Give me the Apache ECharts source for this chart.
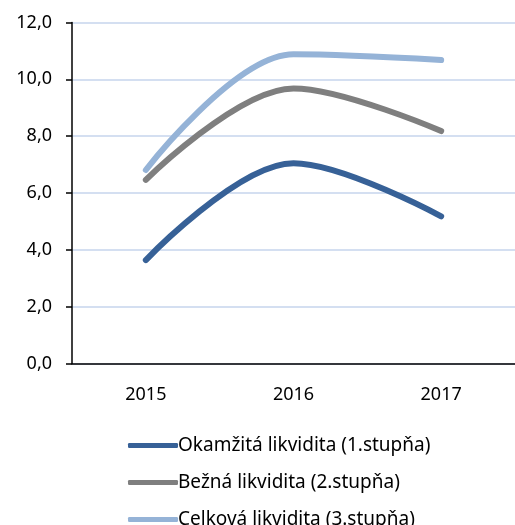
<!DOCTYPE html>
<html>
<head>
<meta charset="utf-8">
<script src="https://cdn.jsdelivr.net/npm/echarts@6/dist/echarts.min.js"></script>
<style>
  html, body { margin: 0; padding: 0; background: #fff; }
  #chart { width: 515px; height: 525px; }
</style>
</head>
<body>
<div id="chart"></div>
<script>
  // roky na osi x
  const years = ['2015', '2016', '2017'];
  // ukazovatele likvidity
  const okamzita = [3.64, 7.05, 5.18];
  const bezna = [6.46, 9.68, 8.18];
  const celkova = [6.81, 10.88, 10.68];
  const seriesNames = ['Okamžitá likvidita (1.stupňa)', 'Bežná likvidita (2.stupňa)', 'Celková likvidita (3.stupňa)'];
  const yTicks = [0, 2, 4, 6, 8, 10, 12];

  const chart = echarts.init(document.getElementById('chart'));
  const font = 'Noto Sans';

  function lineSeries(name, data, color) {
    return {
      name: name,
      type: 'line',
      data: data,
      smooth: 0.35,
      symbol: 'none',
      lineStyle: { color: color, width: 6, cap: 'round', join: 'round' },
      itemStyle: { color: color }
    };
  }

  chart.setOption({
    animation: false,
    grid: { left: 72, top: 22.5, width: 450, bottom: 161.5 },
    xAxis: {
      type: 'category',
      data: years,
      axisLine: { lineStyle: { color: '#000', width: 1.5 } },
      axisTick: { length: 6, lineStyle: { color: '#000', width: 1.5 } },
      axisLabel: { color: '#000', fontSize: 18, fontFamily: font, margin: 22 }
    },
    yAxis: {
      type: 'value',
      min: yTicks[0],
      max: yTicks[yTicks.length - 1],
      interval: 2,
      axisLine: { show: true, lineStyle: { color: '#000', width: 1.5 } },
      axisTick: { show: true, length: 6, lineStyle: { color: '#000', width: 1.5 } },
      axisLabel: {
        color: '#000', fontSize: 18, fontFamily: font, margin: 20,
        formatter: v => v.toFixed(1).replace('.', ',')
      },
      splitLine: { lineStyle: { color: '#c6d5ec', width: 1.5 } }
    },
    legend: {
      orient: 'vertical',
      left: 128,
      top: 436,
      height: 200,
      padding: 0,
      itemWidth: 50,
      itemHeight: 5,
      itemGap: 18,
      icon: 'roundRect',
      textStyle: { color: '#000', fontSize: 19, fontFamily: font, padding: [0, 0, 0, -5] },
      data: seriesNames
    },
    series: [
      lineSeries(seriesNames[0], okamzita, '#376197'),
      lineSeries(seriesNames[1], bezna, '#7f7f7f'),
      lineSeries(seriesNames[2], celkova, '#95b3d7')
    ]
  });
</script>
</body>
</html>
